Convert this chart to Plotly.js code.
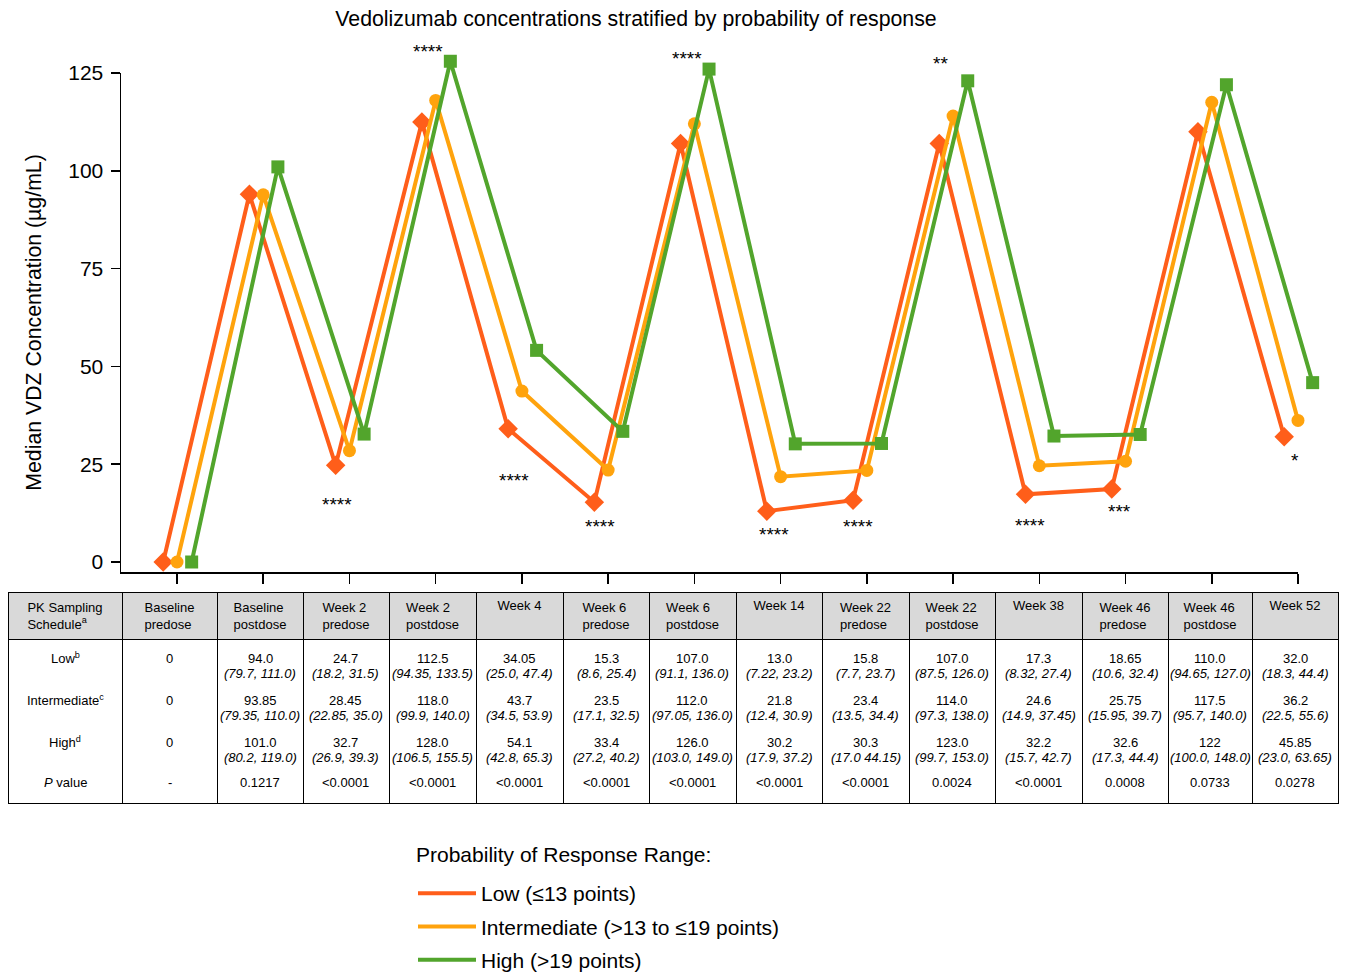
<!DOCTYPE html>
<html>
<head>
<meta charset="utf-8">
<script src="https://cdn.plot.ly/plotly-3.0.1.min.js"></script>
<style>html,body{margin:0;padding:0;background:#fff;overflow:hidden;}#chart{width:1346px;height:974px;}</style>
</head>
<body>
<div id="chart"></div>
<script>
// ---------------- DATA ----------------
const timepoints = ['Baseline<br>predose','Baseline<br>postdose','Week 2<br>predose','Week 2<br>postdose','Week 4',
  'Week 6<br>predose','Week 6<br>postdose','Week 14','Week 22<br>predose','Week 22<br>postdose','Week 38',
  'Week 46<br>predose','Week 46<br>postdose','Week 52'];
const lowMedian  = ['0','94.0','24.7','112.5','34.05','15.3','107.0','13.0','15.8','107.0','17.3','18.65','110.0','32.0'];
const lowCI      = ['','79.7, 111.0','18.2, 31.5','94.35, 133.5','25.0, 47.4','8.6, 25.4','91.1, 136.0','7.22, 23.2','7.7, 23.7','87.5, 126.0','8.32, 27.4','10.6, 32.4','94.65, 127.0','18.3, 44.4'];
const intMedian  = ['0','93.85','28.45','118.0','43.7','23.5','112.0','21.8','23.4','114.0','24.6','25.75','117.5','36.2'];
const intCI      = ['','79.35, 110.0','22.85, 35.0','99.9, 140.0','34.5, 53.9','17.1, 32.5','97.05, 136.0','12.4, 30.9','13.5, 34.4','97.3, 138.0','14.9, 37.45','15.95, 39.7','95.7, 140.0','22.5, 55.6'];
const highMedian = ['0','101.0','32.7','128.0','54.1','33.4','126.0','30.2','30.3','123.0','32.2','32.6','122','45.85'];
const highCI     = ['','80.2, 119.0','26.9, 39.3','106.5, 155.5','42.8, 65.3','27.2, 40.2','103.0, 149.0','17.9, 37.2','17.0 44.15','99.7, 153.0','15.7, 42.7','17.3, 44.4','100.0, 148.0','23.0, 63.65'];
const pValues    = ['-','0.1217','&lt;0.0001','&lt;0.0001','&lt;0.0001','&lt;0.0001','&lt;0.0001','&lt;0.0001','&lt;0.0001','0.0024','&lt;0.0001','0.0008','0.0733','0.0278'];
const sigLabels  = ['','','****','****','****','****','****','****','****','**','****','***','','*'];
const groupNames = ['Low (≤13 points)','Intermediate (>13 to ≤19 points)','High (>19 points)'];
const rowLabels  = ['Low<sup>b</sup>','Intermediate<sup>c</sup>','High<sup>d</sup>','<i>P</i> value'];
const headerFirst = 'PK Sampling<br>Schedule<sup>a</sup>';
const legendTitle = 'Probability of Response Range:';
const yTicks     = [0,25,50,75,100,125];

// ---------------- LAYOUT CONSTANTS ----------------
const W = 1346, H = 974, MB = 24;          // bottom margin leaves room for the legend
const PH = H - MB;                         // paper height in px
const fy = py => (PH - py) / PH;           // pixel row -> paper fraction
const fx = px => px / W;
const FONT = 'Liberation Sans, Arial, Helvetica, sans-serif';
const X0PX = 177, XSTEP = 86.23;          // pixel of first category, px per category
const Y0PX = 562, YSTEP = 3.912;          // pixel of value 0, px per unit
const axLeft = 121, axRight = 1298, axTop = 73, axBottom = 572;
const dataRight = 1340, dataTop = 30;
const xr = [(axLeft - X0PX)/XSTEP, (dataRight - X0PX)/XSTEP];
const yr = [(Y0PX - axBottom)/YSTEP, (Y0PX - dataTop)/YSTEP];
const xAxisEnd = (axRight - X0PX)/XSTEP;
const yAxisTop = (Y0PX - axTop)/YSTEP;
const offsets = [-0.16, 0, 0.17];
const colors = ['#FF5E1A', '#FFA30D', '#52A52C'];
const symbols = ['diamond', 'circle', 'square'];
const msizes = [15, 13, 13];
// star annotation placement: [x offset from category, y value]
const starPlacement = {2:[-0.15,14.8],3:[-0.09,130.4],4:[-0.09,20.9],5:[-0.10,9.2],6:[-0.09,128.8],
  7:[-0.08,7.1],8:[-0.10,9.2],9:[-0.15,127.5],10:[-0.11,9.4],11:[-0.07,12.8],13:[-0.03,26.0]};

const idx = timepoints.map((_, i) => i);
const series = [lowMedian, intMedian, highMedian].map(a => a.map(Number));

const traces = [];
// legend entries (lines only) on display axes
groupNames.forEach((nm, k) => {
  traces.push({
    type: 'scatter', mode: 'lines', x: [null], y: [null], name: nm, xaxis: 'x', yaxis: 'y',
    line: {color: colors[k], width: 4}, showlegend: true, legendgroup: 'g' + k
  });
});
// data on extended (hidden) axes with identical scale
series.forEach((vals, k) => {
  traces.push({
    type: 'scatter', mode: 'lines+markers', xaxis: 'x2', yaxis: 'y2',
    x: idx.map(i => i + offsets[k]), y: vals,
    line: {color: colors[k], width: 4},
    marker: {color: colors[k], symbol: symbols[k], size: msizes[k]},
    cliponaxis: false, showlegend: false, hoverinfo: 'y', name: groupNames[k]
  });
});

// table (grid + header)
const colWidths = [114,95,86,86,87,87,86,87,86,87,86,87,86,84,86];
const tLeft = 8, tRight = 1338, tTop = 592, tHeadBottom = 638, tBottom = 802;
const headerVals = [headerFirst].concat(timepoints);
traces.push({
  type: 'table', domain: {x: [fx(tLeft), fx(tRight)], y: [fy(tBottom + 4), fy(tTop)]},
  columnwidth: colWidths,
  header: {values: headerVals, height: tHeadBottom - tTop, align: 'center',
    fill: {color: '#d9d9d9'}, line: {color: '#000', width: 1},
    font: {family: FONT, size: 13, color: '#000'}},
  cells: {values: headerVals.map(() => ['']), height: tBottom - tHeadBottom,
    fill: {color: '#fff'}, line: {color: '#000', width: 1}},
  hoverinfo: 'skip'
});

// body text of the table, placed at the column centres
const totalW = colWidths.reduce((a, b) => a + b, 0);
const scaleW = (tRight - tLeft) / totalW;
const colCenters = [];
let acc = tLeft;
colWidths.forEach(w => { colCenters.push(acc + w*scaleW/2); acc += w*scaleW; });
const rowValueY = [658, 700, 742, 782];
const ciGap = 15;
const annotations = [];
function cellAnn(xpx, ypx, text) {
  annotations.push({xref: 'paper', yref: 'paper', x: fx(xpx), y: fy(ypx), text: text,
    showarrow: false, xanchor: 'center', yanchor: 'middle', font: {family: FONT, size: 13, color: '#000'}});
}
rowLabels.forEach((t, r) => cellAnn(colCenters[0], rowValueY[r], t));
const medCols = [lowMedian, intMedian, highMedian];
const ciCols = [lowCI, intCI, highCI];
idx.forEach(i => {
  const cx = colCenters[i + 1];
  for (let r = 0; r < 3; r++) {
    cellAnn(cx, rowValueY[r], medCols[r][i]);
    if (ciCols[r][i]) cellAnn(cx, rowValueY[r] + ciGap, '<i>(' + ciCols[r][i] + ')</i>');
  }
  cellAnn(cx, rowValueY[3], pValues[i]);
});

// significance stars
sigLabels.forEach((s, i) => {
  if (!s) return;
  const p = starPlacement[i];
  annotations.push({xref: 'x2', yref: 'y2', x: i + p[0], y: p[1], text: s, showarrow: false,
    font: {family: FONT, size: 19, color: '#000'}, xanchor: 'center', yanchor: 'middle'});
});
// legend heading
annotations.push({xref: 'paper', yref: 'paper', x: fx(414), y: fy(854), text: legendTitle,
  showarrow: false, xanchor: 'left', yanchor: 'middle', font: {family: FONT, size: 21, color: '#000'}});

const layout = {
  width: W, height: H,
  margin: {l: 0, r: 0, t: 0, b: MB, autoexpand: false},
  paper_bgcolor: '#fff', plot_bgcolor: 'rgba(0,0,0,0)',
  font: {family: FONT, color: '#000'},
  title: {text: 'Vedolizumab concentrations stratified by probability of response',
    font: {family: FONT, size: 21.3, color: '#000'}, x: fx(636), xref: 'paper', xanchor: 'center',
    y: 1 - 19/H, yref: 'container', yanchor: 'middle'},
  xaxis: {domain: [fx(axLeft), fx(axRight)], range: [xr[0], xAxisEnd], tickvals: idx, ticktext: idx.map(() => ''),
    ticks: 'outside', ticklen: 10, tickwidth: 1.5, tickcolor: '#000', anchor: 'y',
    showline: true, linewidth: 1.5, linecolor: '#000',
    showgrid: false, zeroline: false, fixedrange: true, automargin: false},
  yaxis: {domain: [fy(axBottom), fy(axTop)], range: [yr[0], yAxisTop], tickvals: yTicks, anchor: 'x',
    ticks: 'outside', ticklen: 9, tickwidth: 1.5, tickcolor: '#000', ticklabelstandoff: 3,
    tickfont: {family: FONT, size: 21, color: '#000'},
    showline: true, linewidth: 1.5, linecolor: '#000',
    showgrid: false, zeroline: false, fixedrange: true, automargin: false,
    title: {text: 'Median VDZ Concentration (µg/mL)', font: {family: FONT, size: 21.3, color: '#000'}, standoff: 21}},
  xaxis2: {domain: [fx(axLeft), fx(dataRight)], range: xr, anchor: 'y2', visible: false, fixedrange: true},
  yaxis2: {domain: [fy(axBottom), fy(dataTop)], range: yr, anchor: 'x2', visible: false, fixedrange: true},
  annotations: annotations,
  showlegend: true,
  legend: {x: fx(413), y: fy(873), xanchor: 'left', yanchor: 'top', xref: 'paper', yref: 'paper',
    bgcolor: 'rgba(0,0,0,0)', font: {family: FONT, size: 21, color: '#000'}, itemwidth: 58,
    tracegroupgap: 3, traceorder: 'grouped'}
};

Plotly.newPlot('chart', traces, layout, {displayModeBar: false, staticPlot: true});
</script>
</body>
</html>
